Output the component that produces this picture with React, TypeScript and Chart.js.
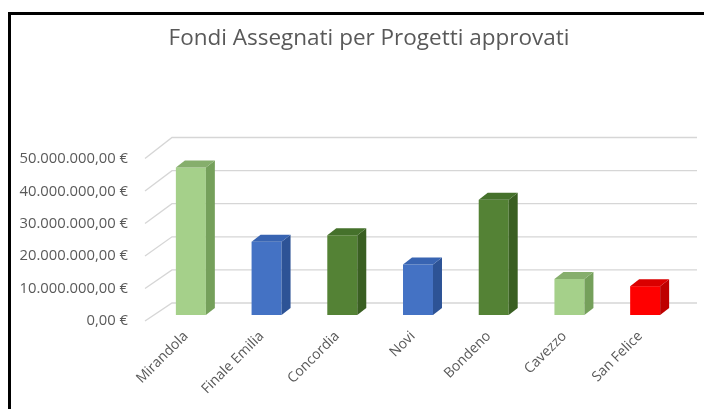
import React, { useEffect, useRef } from "react";
import { Chart, registerables } from "chart.js";

Chart.register(...registerables);

const titleText = "Fondi Assegnati per Progetti approvati";
const categories = ["Mirandola", "Finale Emilia", "Concordia", "Novi", "Bondeno", "Cavezzo", "San Felice"];
const values = [45500000, 22600000, 24600000, 15600000, 35600000, 11100000, 8900000];
const yTicks = [0, 10000000, 20000000, 30000000, 40000000, 50000000];

const frontColors = ["#A5D08A", "#4472C4", "#548235", "#4472C4", "#548235", "#A5D08A", "#FF0000"];
const sideColors = ["#75A05B", "#2D5396", "#3A5F22", "#2D5396", "#3A5F22", "#75A05B", "#BE0000"];
const topColors = ["#86AE6C", "#3864B2", "#45712B", "#3864B2", "#45712B", "#86AE6C", "#DA0000"];

function formatEuro(v: number): string {
  const intPart = Math.floor(v).toString();
  let out = "";
  for (let i = 0; i < intPart.length; i++) {
    const fromEnd = intPart.length - i;
    out += intPart[i];
    if (fromEnd > 1 && (fromEnd - 1) % 3 === 0) out += ".";
  }
  return out + ",00 €";
}

const DX = 9;
const DY = -7;

const framePlugin = {
  id: "frame",
  beforeDraw(chart: any) {
    const { ctx, width, height } = chart;
    ctx.save();
    ctx.fillStyle = "#ffffff";
    ctx.fillRect(0, 0, width, height);
    ctx.fillStyle = "#000000";
    ctx.fillRect(8, 12, 3, height - 12);
    ctx.fillRect(8, 12, width - 8, 3);
    ctx.restore();
  },
};

const wallPlugin = {
  id: "walls",
  beforeDatasetsDraw(chart: any) {
    const { ctx, chartArea: ca, scales } = chart;
    const y = scales.y;
    const base = y.getPixelForValue(0);
    ctx.save();
    ctx.strokeStyle = "#d6d6d6";
    ctx.lineWidth = 1.3;
    for (const v of yTicks) {
      const f = y.getPixelForValue(v);
      const backY = base - 12 + (f - base) * 1.0215;
      const frontY = base + 6 + (f - base) * 1.003;
      ctx.beginPath();
      ctx.moveTo(ca.left - 8, frontY);
      ctx.lineTo(ca.left + 19, backY);
      ctx.lineTo(ca.right + 14, backY);
      ctx.stroke();
    }
    ctx.restore();
  },
};

const bar3dPlugin = {
  id: "bar3d",
  afterDatasetsDraw(chart: any) {
    const { ctx } = chart;
    const meta = chart.getDatasetMeta(0);
    ctx.save();
    meta.data.forEach((el: any, i: number) => {
      const { x, y, base, width } = el.getProps(["x", "y", "base", "width"], true);
      const l = x - width / 2;
      const r = x + width / 2;
      ctx.fillStyle = sideColors[i];
      ctx.beginPath();
      ctx.moveTo(r, y);
      ctx.lineTo(r + DX, y + DY);
      ctx.lineTo(r + DX, base + DY);
      ctx.lineTo(r, base);
      ctx.closePath();
      ctx.fill();
      ctx.fillStyle = topColors[i];
      ctx.beginPath();
      ctx.moveTo(l, y);
      ctx.lineTo(r, y);
      ctx.lineTo(r + DX, y + DY);
      ctx.lineTo(l + DX, y + DY);
      ctx.closePath();
      ctx.fill();
    });
    ctx.restore();
  },
};

export default function App() {
  const ref = useRef<HTMLCanvasElement | null>(null);
  useEffect(() => {
    if (!ref.current) return;
    const chart = new Chart(ref.current, {
      type: "bar",
      data: {
        labels: categories,
        datasets: [
          {
            data: values,
            backgroundColor: frontColors,
            borderWidth: 0,
            categoryPercentage: 1,
            barPercentage: 0.396,
          },
        ],
      },
      options: {
        responsive: false,
        animation: false,
        layout: { padding: { left: 0, top: 0, right: -34, bottom: 0 } },
        plugins: {
          legend: { display: false },
          tooltip: { enabled: false },
          title: {
            display: true,
            text: titleText,
            color: "#595959",
            font: { family: "'Open Sans'", size: 22.5, weight: "normal", lineHeight: 1.2 },
            padding: { top: 25, bottom: 101 },
          },
        },
        scales: {
          x: {
            grid: { display: false, drawTicks: false },
            border: { display: false },
            ticks: {
              color: "#595959",
              font: { family: "'Open Sans'", size: 14 },
              maxRotation: 45,
              minRotation: 45,
              autoSkip: false,
              padding: 13,
              labelOffset: -5,
            },
            afterFit(scale: any) {
              scale.height = 94;
            },
          },
          y: {
            min: 0,
            max: 50000000,
            grid: { display: false, drawTicks: false },
            border: { display: false },
            ticks: {
              stepSize: 10000000,
              color: "#595959",
              font: { family: "'Open Sans'", size: 14.8 },
              padding: 25,
              labelOffset: 6,
              callback: (v: any) => formatEuro(Number(v)),
            },
            afterFit(scale: any) {
              scale.width = 153;
            },
          },
          yRight: {
            position: "right",
            min: 0,
            max: 50000000,
            grid: { display: false, drawTicks: false },
            border: { display: false },
            ticks: { display: false },
            afterFit(scale: any) {
              scale.width = 55;
            },
          },
        },
      },
      plugins: [framePlugin, wallPlugin, bar3dPlugin],
    });
    return () => chart.destroy();
  }, []);
  return (
    <div style={{ position: "absolute", left: 0, top: 0, width: 704, height: 409 }}>
      <canvas ref={ref} width={704} height={409} style={{ display: "block" }} />
    </div>
  );
}
